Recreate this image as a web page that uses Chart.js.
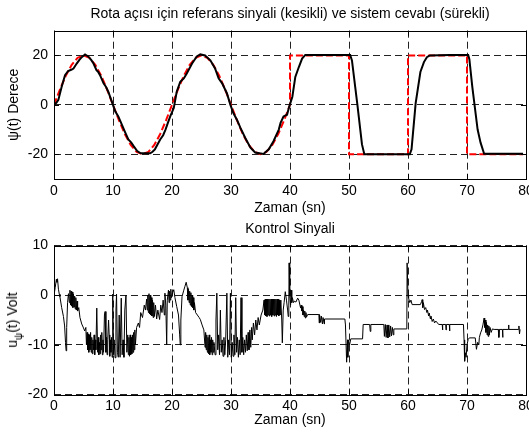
<!DOCTYPE html>
<html>
<head>
<meta charset="utf-8">
<script src="https://cdn.jsdelivr.net/npm/chart.js@4/dist/chart.umd.min.js"></script>
<style>
  html, body { margin:0; padding:0; background:#fff; }
  #wrap { position:relative; width:529px; height:438px; overflow:hidden; background:#fff; }
  .box { position:absolute; left:0; width:529px; height:219px; }
  #ylab2 { position:absolute; left:14px; top:320px; transform:translate(-50%,-50%) rotate(-90deg);
           font-family:'Liberation Sans', Arial, sans-serif; font-size:14px; color:#000; white-space:nowrap; }
  #ylab2 sub { font-size:10px; vertical-align:-5px; }
</style>
</head>
<body>
<div id="wrap">
  <div class="box" style="top:0"><canvas id="c1" width="529" height="219"></canvas></div>
  <div class="box" style="top:219px"><canvas id="c2" width="529" height="219"></canvas></div>
  <div id="ylab2">u<sub>ψ</sub>(t) Volt</div>
</div>
<script>
// ---------- data ----------
const xTicks = [0, 10, 20, 30, 40, 50, 60, 70, 80];
const yTicksTop = [-20, 0, 20];
const yTicksBottom = [-20, -10, 0, 10];

const titleTop = 'Rota açısı için referans sinyali (kesikli) ve sistem cevabı (sürekli)';
const titleBottom = 'Kontrol Sinyali';
const xLabel = 'Zaman (sn)';
const yLabelTop = 'ψ(t) Derece';

// reference (dashed red): [time, angle]
const reference = [
  [0,0],[1,6.2],[2,11.8],[3,16.2],[4,19.0],[5,20],[6,19.0],[7,16.2],[8,11.8],[9,6.2],
  [10,0],[11,-6.2],[12,-11.8],[13,-16.2],[14,-19.0],[15,-20],[16,-19.0],[17,-16.2],[18,-11.8],[19,-6.2],
  [20,0],[21,6.2],[22,11.8],[23,16.2],[24,19.0],[25,20],[26,19.0],[27,16.2],[28,11.8],[29,6.2],
  [30,0],[31,-6.2],[32,-11.8],[33,-16.2],[34,-19.0],[35,-20],[36,-19.0],[37,-16.2],[38,-11.8],[39,-6.2],
  [40,0],[40,20],[50,20],[50,-20],[60,-20],[60,20],[70,20],[70,-20],[79.5,-20]
];

// system response (solid black): [time, angle]
const response = [
  [0,0],[0.4,0.8],[0.74,2],[1.3,7.3],[1.87,12],[2.4,13.7],[3.0,14.3],[3.3,14.7],[3.85,16.7],[4.3,18.2],
  [4.7,19.3],[5.26,20.4],[5.8,19.6],[6.3,18.2],[6.7,16.7],[7.2,14],[7.5,13.3],[7.8,12],[8.4,8.7],[8.8,7.3],
  [9.2,5.3],[9.8,1.3],[10.4,-2.7],[10.9,-4.7],[11.5,-8],[12.1,-11.3],[12.6,-14],[13.1,-15.3],[13.5,-16.7],
  [14.1,-18.7],[14.7,-19.6],[16.3,-19.6],[16.7,-19],[17.1,-18],[18.0,-14],[18.5,-12.3],[18.9,-10],[19.3,-7.3],
  [19.7,-4.7],[20.3,-1.3],[20.8,5.3],[21.4,9.3],[22.0,10.7],[22.5,12.7],[23.4,16.7],[24.2,19.6],[24.8,20.4],
  [25.6,20],[26.5,18],[27.3,14.7],[27.9,10.7],[28.5,8.7],[29.3,4.7],[29.9,0],[30.4,-3.3],[31.0,-6],[31.6,-9.3],
  [32.4,-13.3],[33.3,-17.3],[34.1,-19.3],[35.5,-19.9],[36.4,-18],[37.2,-14.7],[38.1,-10],[38.4,-7.3],[38.9,-4.7],
  [39.5,-4],[39.8,-1.3],[40.4,3.3],[40.9,11.3],[41.5,15.3],[42.05,18.7],[42.6,20.2],[50.2,20.2],[50.5,18],
  [51.4,0.5],[52.2,-16],[52.6,-20],[60.3,-20],[60.6,-18],[61.3,0.7],[62.1,13.3],[62.7,17.3],[63.2,19.3],
  [63.7,20],[67,20.2],[70.2,20.2],[70.4,18.5],[70.9,7.3],[71.8,-10],[72.3,-15.3],[72.9,-19.8],[79.5,-19.8]
];

// control signal (thin black): [time, volt]
const controlSignal = [
  [0,0],[0.2,1.5],[0.4,3.2],[0.5,2.6],[0.6,3.3],[0.75,1.2],[0.9,0.2],[1.0,-0.3],[1.3,-2.5],[1.6,-4.3],
  [1.8,-6.2],[1.95,-9.5],[2.05,-11.2],[2.15,-6.5],[2.3,-1.5],[2.45,0.3],
  [2.6,-1.5],[2.7,1.0],[2.8,-2.0],[2.9,0.8],[3.0,-2.2],[3.1,0.6],[3.2,-2.5],[3.3,0.2],[3.4,-2.4],[3.5,-0.2],
  [3.6,-2.8],[3.7,-0.5],[3.8,-3.0],[3.9,-1.2],[4.0,-3.2],[4.2,-2.5],[4.4,-4.5],
  [4.7,-5.8],[5.0,-6.6],[5.2,-7.2],[5.4,-6.5],
  [5.5,-10.0],[5.6,-7.5],[5.7,-11.0],[5.8,-7.8],[5.9,-11.5],[6.0,-8.0],[6.1,-11.0],[6.2,-7.5],[6.3,-11.5],
  [6.4,-8.5],[6.5,-11.8],[6.6,-9.0],[6.7,-11.0],[6.8,-8.0],[6.9,-12.0],[7.0,-9.0],[7.1,-11.0],[7.25,-2.6],
  [7.4,-11.5],[7.5,-8.5],[7.6,-12.0],[7.7,-9.5],[7.8,-11.8],[7.9,-8.0],[8.0,-11.0],[8.1,-7.5],[8.2,-12.0],
  [8.3,-9.0],[8.4,-11.5],[8.55,-4.0],[8.66,-3.3],[8.8,-11.5],[8.9,-8.5],[9.0,-12.0],[9.1,-9.0],[9.25,-5.0],
  [9.35,-8.0],[9.45,-12.3],[9.55,-9.0],[9.65,-11.5],[9.75,-8.5],[9.85,-12.5],[9.95,0.2],[10.1,-12.0],
  [10.2,-9.0],[10.35,-12.6],[10.5,-3.0],[10.6,0.2],[10.75,-11.5],[10.9,-12.5],[11.05,-4.0],[11.2,-12.5],
  [11.4,-0.6],[11.55,-12.0],[11.7,-9.0],[11.85,-12.5],[12.0,-3.0],[12.2,0.0],[12.35,-11.5],
  [12.5,-8.0],[12.6,-12.0],[12.7,-8.5],[12.8,-12.3],[12.9,-8.0],[13.0,-12.0],[13.1,-8.5],[13.2,-11.8],
  [13.3,-8.0],[13.4,-11.5],[13.5,-7.5],[13.6,-11.0],[13.7,-7.0],[13.8,-10.0],
  [14.0,-6.5],[14.3,-5.6],[14.5,-6.5],[14.7,-3.5],[15.0,-4.5],[15.3,-2.0],[15.5,-3.0],[15.7,-0.8],
  [15.8,-3.0],[15.9,0.0],[16.0,-3.5],[16.1,0.3],[16.2,-3.8],[16.3,0.0],[16.4,-4.0],[16.5,-0.5],[16.6,-4.2],
  [16.7,-1.0],[16.8,-4.5],[16.9,-1.5],[17.0,-4.3],[17.2,-2.0],[17.4,-4.8],[17.6,-3.0],[17.9,-4.9],[18.1,-2.0],
  [18.3,-3.5],[18.5,-1.0],[18.7,-4.0],[18.8,0.4],[18.95,-2.0],[19.1,-10.0],[19.2,-1.0],[19.4,1.0],[19.5,-1.5],
  [19.6,0.8],[19.7,-1.0],[19.8,1.2],[19.9,-0.5],
  [20.1,0.5],[20.3,1.1],[20.5,-0.5],[20.8,-2.3],[21.1,-4.0],[21.3,-8.0],[21.4,-10.0],[21.5,-5.0],[21.7,-0.3],
  [22.0,1.0],[22.2,1.8],[22.4,2.6],[22.6,1.5],
  [22.7,-1.0],[22.8,1.2],[22.9,-1.5],[23.0,0.8],[23.1,-2.0],[23.2,0.5],[23.3,-2.3],[23.4,0.0],[23.5,-2.5],
  [23.6,-0.5],[23.7,-3.0],[23.8,-1.5],[24.0,-3.5],[24.3,-4.0],[24.6,-4.5],[24.8,-4.9],[25.1,-6.0],[25.4,-7.0],
  [25.6,-10.5],[25.7,-7.5],[25.8,-11.0],[25.9,-8.0],[26.0,-11.5],[26.1,-8.5],[26.2,-11.8],[26.3,-8.0],
  [26.4,-12.0],[26.5,-9.0],[26.6,-11.5],[26.7,-8.5],[26.8,-12.0],[26.9,-9.0],[27.0,-11.5],[27.1,-9.5],
  [27.3,-12.0],[27.45,-5.0],[27.6,0.4],[27.75,-11.0],[27.9,-8.0],[28.05,-12.0],[28.2,-3.0],[28.35,-11.5],
  [28.5,-9.0],[28.65,-12.3],[28.8,-8.5],[28.95,-12.0],[29.1,-9.0],[29.3,0.4],[29.45,-12.5],[29.6,-9.0],
  [29.75,-12.0],[29.9,0.4],[30.05,-12.5],[30.2,-9.5],[30.35,-12.3],[30.5,-8.0],[30.65,-12.0],[30.8,-0.5],
  [30.95,-11.5],[31.1,-8.5],[31.25,-12.5],[31.4,-9.0],[31.55,-12.0],[31.7,-0.5],[31.85,-11.5],[32.0,-8.5],
  [32.15,-12.0],[32.3,-9.0],[32.45,-11.5],[32.6,-8.0],[32.75,-11.2],[32.9,-7.5],[33.05,-11.0],[33.2,-7.0],
  [33.35,-10.5],[33.5,-6.5],[33.6,-9.0],[33.8,-5.6],[34.0,-8.0],[34.2,-5.0],[34.4,-7.0],[34.6,-4.5],
  [34.8,-6.0],[35.1,-4.0],[35.4,-3.0],
  [35.6,-1.0],[35.7,-4.0],[35.8,-0.8],[35.9,-4.2],[36.0,-0.8],[36.1,-4.3],[36.2,-0.8],[36.3,-4.0],[36.4,-0.8],
  [36.5,-4.2],[36.6,-0.8],[36.7,-4.0],[36.8,-0.8],[36.9,-4.3],[37.0,-0.8],[37.1,-4.0],[37.2,-0.8],[37.3,-4.2],
  [37.4,-0.8],[37.5,-4.0],[37.6,-0.8],[37.7,-4.3],[37.8,-0.8],[37.9,-4.0],[38.0,-0.8],[38.1,-4.2],[38.2,-1.0],
  [38.3,-4.0],[38.45,-1.0],[38.6,-5.0],[38.7,-9.6],[38.85,-3.0],[39.0,-1.5],[39.2,0.7],[39.4,-1.0],[39.6,-3.0],
  [39.7,-4.3],[39.8,-2.0],[39.85,6.5],[39.95,0.0],[40.1,-2.0],[40.2,1.0],[40.3,-1.5],[40.4,-0.5],[40.6,-1.5],
  [40.8,-1.2],[41.0,-1.4],[41.3,-0.6],[41.5,-1.0],[41.8,-2.6],[41.9,-2.0],[42.0,-3.2],[42.1,-2.3],[42.2,-4.0],
  [42.3,-3.0],[42.4,-4.3],[42.5,-3.2],[42.6,-4.6],[42.7,-3.5],[42.8,-4.4],[43.0,-3.9],[44.9,-3.9],[44.95,-5.6],
  [45.0,-3.9],[45.2,-5.5],[45.3,-4.2],[45.5,-5.8],[45.6,-4.5],[45.8,-5.8],[45.85,-4.8],[49.3,-4.8],[49.4,-6.0],
  [49.6,-13.5],[49.75,-9.0],[49.8,-12.5],[49.9,-9.0],[50.1,-10.0],[50.3,-8.8],[52.3,-8.8],[52.4,-5.9],
  [53.5,-5.9],[53.6,-7.3],[53.7,-5.9],[55.9,-5.9],[56.0,-8.3],[56.15,-5.9],[56.3,-8.5],[56.45,-6.0],
  [56.6,-8.6],[56.75,-6.0],[56.9,-8.4],[57.05,-6.2],[57.2,-8.2],[57.35,-6.5],
  [57.5,-8.0],[57.6,-6.8],[59.8,-6.8],[59.85,6.5],[60.0,0.0],[60.1,-0.6],[60.3,-1.5],[60.5,-1.0],[60.7,-1.9],
  [62.1,-1.9],[62.3,-1.3],[62.4,-0.9],[62.5,-2.5],[62.6,-1.5],[62.8,-2.9],[63.0,-2.5],[63.2,-3.5],[63.3,-3.0],
  [63.5,-4.2],[63.6,-3.6],[63.8,-4.8],[63.9,-4.2],[64.1,-5.3],[64.3,-4.8],[64.5,-5.6],[64.7,-5.2],[65.0,-5.6],
  [65.2,-5.9],[65.8,-5.9],[65.85,-7.0],[65.9,-5.9],[66.4,-5.9],[66.45,-7.0],[66.5,-5.9],[67.0,-5.9],
  [67.05,-7.2],[67.1,-5.9],[69.4,-5.9],[69.5,-9.0],[69.6,-13.3],[69.75,-11.6],[69.85,-12.5],[70.0,-10.0],
  [70.2,-8.9],[70.4,-8.6],[71.4,-8.6],[71.6,-10.9],[71.8,-9.5],[72.0,-10.0],[72.1,-8.5],[72.3,-7.6],
  [72.5,-7.0],[72.7,-6.0],[72.9,-4.6],[73.0,-6.5],[73.1,-5.0],[73.2,-7.5],[73.3,-5.5],[73.4,-8.0],[73.5,-6.0],
  [73.6,-8.3],[73.7,-6.2],[73.8,-8.0],[73.9,-6.5],[74.1,-7.5],[74.3,-6.8],[74.6,-6.9],[75.3,-6.9],[75.4,-8.5],
  [75.5,-6.9],[76.0,-6.9],[76.05,-8.5],[76.1,-6.9],[77.0,-6.9],[77.05,-6.0],[77.1,-6.9],[78.7,-6.9],
  [78.8,-6.2],[78.9,-7.8],[79.0,-6.9]
];

// ---------- chart setup ----------
Chart.defaults.font.family = "'Liberation Sans', Arial, sans-serif";
Chart.defaults.font.size = 14;
Chart.defaults.color = '#000';

const toXY = arr => arr.map(p => ({x: p[0], y: p[1]}));

const framePlugin = {
  id: 'frame',
  afterDatasetsDraw(chart) {
    const {ctx, chartArea: a, scales} = chart;
    ctx.save();
    ctx.strokeStyle = '#000';
    ctx.lineWidth = 1;
    ctx.setLineDash([]);
    ctx.beginPath();
    scales.x.ticks.forEach(t => {
      const px = Math.round(scales.x.getPixelForValue(t.value)) + 0.5;
      ctx.moveTo(px, a.bottom); ctx.lineTo(px, a.bottom - 5);
      ctx.moveTo(px, a.top); ctx.lineTo(px, a.top + 5);
    });
    scales.y.ticks.forEach(t => {
      const py = Math.round(scales.y.getPixelForValue(t.value)) + 0.5;
      ctx.moveTo(a.left, py); ctx.lineTo(a.left + 5, py);
      ctx.moveTo(a.right, py); ctx.lineTo(a.right - 5, py);
    });
    ctx.stroke();
    ctx.strokeRect(Math.round(a.left) + 0.5, Math.round(a.top) + 0.5,
                   Math.round(a.right - a.left), Math.round(a.bottom - a.top));
    ctx.restore();
  }
};

function makeChart(id, cfg) {
  return new Chart(document.getElementById(id), {
    type: 'line',
    data: { datasets: cfg.datasets },
    options: {
      responsive: false,
      animation: false,
      devicePixelRatio: 1,
      layout: { padding: { left: 0, right: 3, top: 0, bottom: 0 } },
      plugins: {
        legend: { display: false },
        tooltip: { enabled: false },
        title: { display: true, fullSize: false, text: cfg.title, font: { size: 14, weight: 'normal' },
                 color: '#000', padding: cfg.titlePad }
      },
      elements: { point: { radius: 0 }, line: { tension: 0 } },
      scales: {
        x: {
          type: 'linear', min: 0, max: 80,
          afterBuildTicks: s => { s.ticks = xTicks.map(v => ({value: v})); },
          afterFit: s => { s.height = cfg.xAxisHeight; s.paddingLeft = 0; s.paddingRight = 0; },
          grid: { color: '#222', lineWidth: 1, drawTicks: false },
          border: { display: false, dash: [7, 4] },
          ticks: { padding: cfg.xTickPad, color: '#000', font: { size: 14 }, maxRotation: 0, autoSkip: false },
          title: { display: true, text: xLabel, color: '#000', font: { size: 14 }, padding: { top: 0, bottom: cfg.xTitlePad } }
        },
        y: {
          type: 'linear', min: cfg.yMin, max: cfg.yMax,
          afterBuildTicks: s => { s.ticks = cfg.yTicks.map(v => ({value: v})); },
          afterFit: s => { s.width = 54; s.paddingTop = 0; s.paddingBottom = 0; },
          grid: { color: '#222', lineWidth: 1, drawTicks: false },
          border: { display: false, dash: [7, 4] },
          ticks: { padding: 6, color: '#000', font: { size: 14 }, autoSkip: false },
          title: { display: cfg.yLabel !== null, text: cfg.yLabel || '', color: '#000', font: { size: 14 },
                   padding: { top: 6, bottom: 0 } }
        }
      }
    },
    plugins: [framePlugin]
  });
}

makeChart('c1', {
  title: titleTop,
  titlePad: { top: 6, bottom: 7.9 },
  xAxisHeight: 40,
  xTickPad: 4,
  xTitlePad: 2,
  yMin: -30, yMax: 30, yTicks: yTicksTop,
  yLabel: yLabelTop,
  datasets: [
    { data: toXY(response), borderColor: '#000', borderWidth: 2, fill: false },
    { data: toXY(reference), borderColor: '#ff0000', borderWidth: 2, borderDash: [7, 3], fill: false }
  ]
});

makeChart('c2', {
  title: titleBottom,
  titlePad: { top: 1.6, bottom: 8.1 },
  xAxisHeight: 43.5,
  xTickPad: 3,
  xTitlePad: 9.5,
  yMin: -20, yMax: 10, yTicks: yTicksBottom,
  yLabel: null,
  datasets: [
    { data: toXY(controlSignal), borderColor: '#000', borderWidth: 1, fill: false }
  ]
});
</script>
</body>
</html>
